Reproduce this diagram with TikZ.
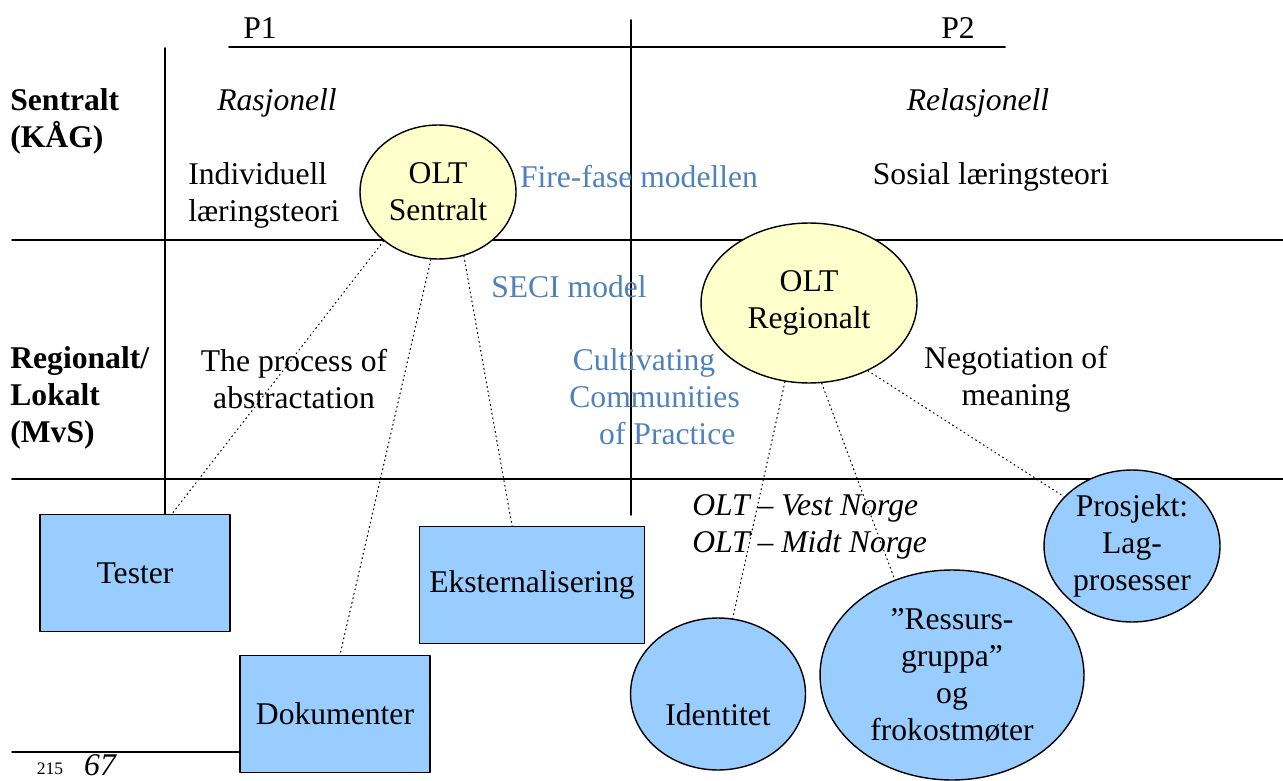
\documentclass[tikz,border=0pt]{standalone}
\usepackage{fontspec}
\setmainfont{Liberation Serif}
\usetikzlibrary{shapes.geometric,calc}
\definecolor{oltyellow}{HTML}{FFFFCC}
\definecolor{toolblue}{HTML}{99CCFF}
\definecolor{theoryblue}{HTML}{4F81BD}

\begin{document}
\begin{tikzpicture}[x=0.02cm, y=-0.02cm, line cap=round, line join=round,
    every node/.style={font=\fontsize{18}{21}\selectfont, inner sep=0pt},
    frame/.style={line width=1.1pt},
    level/.style={anchor=west, align=left, font=\fontsize{18}{21}\selectfont\bfseries},
    olt/.style={ellipse, draw, thick, fill=oltyellow, align=center},
    tool/.style={rectangle, draw, thick, fill=toolblue, minimum height=2.34cm},
    team/.style={ellipse, draw, thick, fill=toolblue, align=center},
    link/.style={dotted, semithick},
    theory/.style={text=theoryblue, align=center}]
		\useasboundingbox (0,0) rectangle (1283,780);
		%\draw[red] (0,0) grid[step=100] (1283,780);

		% P1 / P2 axis and the grid of the table
		\draw[frame] (229,47) -- (1005,47);
		\draw[frame] (631,20) -- (631,515);
		\draw[frame] (165,48) -- (165,515);
		\draw[frame] (12,240) -- (1283,240);
		\draw[frame] (12,479) -- (1283,479);
		\draw[frame] (12,752) -- (240,752);
		\node (p1) at (260,28) {P1};
		\node (p2) at (958,28) {P2};

		% Levels
		\node[level] (sentral) at (10,121) {Sentralt\\(KÅG)};
		\node[level] (regional) at (10,398) {Regionalt/\\Lokalt\\(MvS)};

		% P1 column
		\node[font=\fontsize{18}{21}\selectfont\itshape] (rasjonell) at (277,103) {Rasjonell};
		\node[anchor=west, align=left] (individ) at (188,195) {Individuell\\læringsteori};
		\node[align=center] (abstract) at (294,379) {The process of\\abstractation};

		% P2 column
		\node[font=\fontsize{18}{21}\selectfont\itshape] (relasjonell) at (978,103) {Relasjonell};
		\node (sosial) at (991,177) {Sosial læringsteori};
		\node[align=center] (negotiation) at (1016,379) {Negotiation of\\meaning};
		\node[anchor=west, align=left, font=\fontsize{18}{21}\selectfont\itshape] (nettverk) at (692,527) {OLT -- Vest Norge\\OLT -- Midt Norge};

		% Models in between
		\node[theory] (firefase) at (639,177) {Fire-fase modellen};
		\node[theory] (seci) at (569,287) {SECI model};
		\node[theory, anchor=west, align=left] (cop) at (569,397) {\hspace*{2pt}Cultivating\\Communities\\\hspace*{17pt}of Practice};

		% OLT Sentralt and its tools
		\node[olt, minimum width=3.12cm, minimum height=2.68cm] (sentralt) at (438,192) {OLT\\Sentralt};
		\node[tool, minimum width=3.8cm] (tester) at (135,573) {Tester};
		\node[tool, minimum width=3.8cm] (dokumenter) at (335,714) {Dokumenter};
		\node[tool, minimum width=4.5cm] (ekstern) at (532,585) {Eksternalisering};
		\draw[link] (sentralt.222) -- ($(tester.north)+(37,0)$);
		\draw[link] (sentralt.264) -- ($(dokumenter.north)+(5,0)$);
		\draw[link] (sentralt.292) -- ($(ekstern.north)+(-20,0)$);

		% OLT Regionalt and its groups
		\node[olt, minimum width=4.32cm, minimum height=3.2cm] (regionalt) at (809,303) {OLT\\Regionalt};
		\node[team, minimum width=3.5cm, minimum height=3.04cm, text height=36pt, text depth=0pt] (identitet) at (718,694) {Identitet};
		\node[team, minimum width=5.28cm, minimum height=4.2cm] (ressurs) at (952,675) {”Ressurs-\\gruppa”\\og\\frokostmøter};
		\node[team, minimum width=3.52cm, minimum height=3.04cm] (prosjekt) at (1132,546) {Prosjekt:\\Lag-\\prosesser};
		\draw[link] (regionalt.253) -- (identitet.79);
		\draw[link] (regionalt.279) -- (ressurs.121);
		\draw[link] (regionalt.311) -- (prosjekt.144);

		% page footer
		\node[font=\fontsize{10}{12}\selectfont] (fotnote) at (50,769) {215};
		\node[font=\fontsize{18}{21}\selectfont\itshape] (side) at (100,765) {67};
	\end{tikzpicture}
\end{document}
